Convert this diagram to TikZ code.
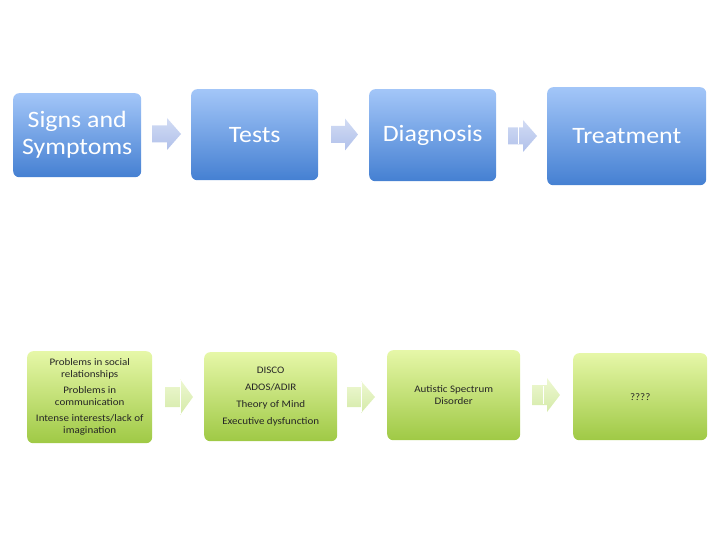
\documentclass[tikz,border=0pt]{standalone}
\usepackage{fontspec}
\setmainfont{Carlito}
\newfontfamily\widefont{Carlito}[FakeStretch=1.1]
\usetikzlibrary{shadings}
\definecolor{btop}{HTML}{A3C6F8}
\definecolor{bbot}{HTML}{4580D2}
\definecolor{gtop}{HTML}{E6F7A8}
\definecolor{gbot}{HTML}{9FC945}
\definecolor{abtop}{HTML}{D2DCF4}
\definecolor{abbot}{HTML}{B0C0EA}
\definecolor{agtop}{HTML}{EEF8D2}
\definecolor{agbot}{HTML}{D4EAA8}
\tikzset{
  bluebox/.style={rectangle, rounded corners=6pt, top color=btop, bottom color=bbot,
    draw=none, text=white, font=\widefont\fontsize{23.5}{27}\selectfont, align=center, anchor=north west},
  greenbox/.style={rectangle, rounded corners=6pt, top color=gtop, bottom color=gbot,
    draw=none, text=black!85, font=\widefont\fontsize{10}{12}\selectfont, align=center, anchor=north west},
  bluearrow/.style={top color=abtop, bottom color=abbot, draw=none},
  greenarrow/.style={top color=agtop, bottom color=agbot, draw=none},
}
% #1 style, #2 x left, #3 y center, #4 head start x, #5 tip x, #6 body half, #7 head half
\newcommand\blockarr[7]{%
  \path[#1] (#2,#3-#6) -- (#4,#3-#6) -- (#4,#3-#7) -- (#5,#3) -- (#4,#3+#7) -- (#4,#3+#6) -- (#2,#3+#6) -- cycle;}
\begin{document}
\begin{tikzpicture}[x=1pt,y=-1pt]
\useasboundingbox (0,0) rectangle (720,540);
% top row
\node[bluebox, minimum width=128pt, minimum height=84pt] (s1) at (13,93) {Signs and\\Symptoms};
\node[bluebox, minimum width=127pt, minimum height=91pt] (s2) at (191,89) {Tests};
\node[bluebox, minimum width=127pt, minimum height=92pt] (s3) at (369,89) {Diagnosis};
\node[bluebox, minimum width=159pt, minimum height=98pt] (s4) at (547,87) {Treatment};
% top arrows
\blockarr{bluearrow}{152}{134}{167}{181}{8.5}{16}
\blockarr{bluearrow}{331}{134.5}{345}{358}{8.5}{16}
\blockarr{bluearrow}{508}{136}{523}{537}{8.5}{16}
\draw[white, line width=0.8pt] (518,127.5) -- (518,144.5);
% bottom row
\node[greenbox, minimum width=125pt, minimum height=92pt] (g1) at (27,351)
  {Problems in social\\relationships\\[4pt]Problems in\\communication\\[4pt]Intense interests/lack of\\imagination};
\node[greenbox, minimum width=133pt, minimum height=89pt] (g2) at (204,352)
  {DISCO\\[5pt]ADOS/ADIR\\[5pt]Theory of Mind\\[5pt]Executive dysfunction};
\node[greenbox, minimum width=133pt, minimum height=90pt] (g3) at (387,350)
  {Autistic Spectrum\\Disorder};
\node[greenbox, minimum width=134pt, minimum height=87pt] (g4) at (573,353) {????};
% bottom arrows
\blockarr{greenarrow}{165}{397}{180}{193}{10}{18}
\draw[white, line width=0.8pt] (180,380) -- (180,414);
\blockarr{greenarrow}{347}{397}{361}{375}{10}{16}
\draw[white, line width=0.8pt] (361,382) -- (361,412);
\blockarr{greenarrow}{532}{395}{547}{560}{10}{17}
\draw[white, line width=0.8pt] (543,386) -- (543,404);
\end{tikzpicture}
\end{document}
